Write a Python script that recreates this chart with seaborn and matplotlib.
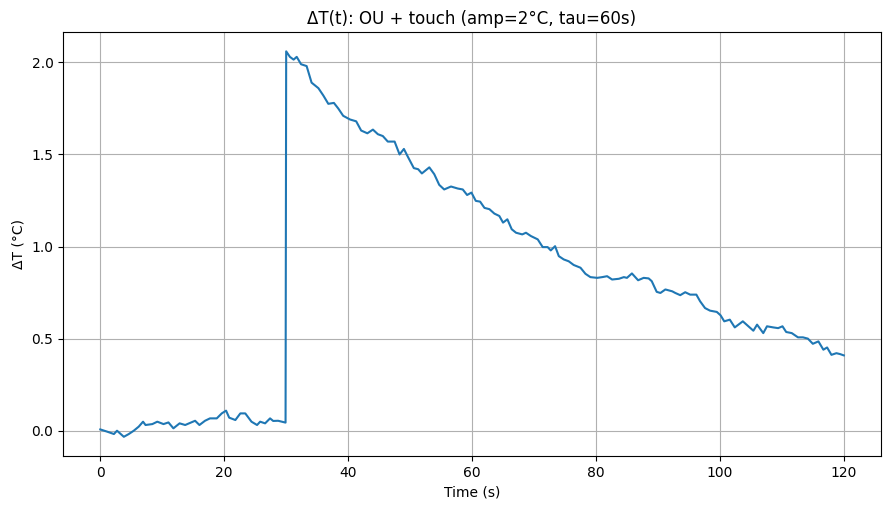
import matplotlib

matplotlib.use("Agg")
import matplotlib.pyplot as plt
import pandas as pd
import seaborn as sns

# values (seconds, degC)
time_before = [0.0, 1.1, 2.2, 2.7, 3.8, 4.6, 5.4, 6.2, 6.9, 7.3, 8.4, 9.2, 10.2,
               11.0, 11.8, 12.8, 13.7, 15.3, 16.0, 16.9, 17.7, 18.8, 19.6, 20.3,
               20.8, 21.8, 22.6, 23.4, 24.4, 25.3, 25.8, 26.6, 27.4, 27.9, 28.7,
               29.9]
dT_before = [0.007, -0.005, -0.018, 0.0, -0.033, -0.018, 0.0, 0.022, 0.049,
             0.031, 0.036, 0.049, 0.036, 0.045, 0.013, 0.040, 0.031, 0.054,
             0.031, 0.054, 0.067, 0.067, 0.094, 0.109, 0.071, 0.058, 0.094,
             0.094, 0.049, 0.031, 0.049, 0.040, 0.067, 0.053, 0.054, 0.044]

time_after = [30.0, 30.6, 31.2, 31.7, 32.4, 33.3, 34.1, 35.2, 36.0, 36.8, 37.7,
              38.4, 39.2, 40.3, 41.3, 42.1, 43.1, 44.0, 44.8, 45.6, 46.4, 47.5,
              48.3, 49.0, 49.6, 50.6, 51.3, 51.9, 53.1, 53.9, 54.7, 55.5, 56.6,
              57.7, 58.5, 59.2, 59.9, 60.6, 61.3, 62.0, 62.8, 63.6, 64.4, 65.0,
              65.7, 66.4, 67.1, 68.1, 68.7, 69.5, 70.6, 71.4, 72.2, 72.7, 73.4,
              74.0, 74.8, 75.6, 76.4, 77.5, 78.3, 79.1, 80.2, 81.0, 81.8, 82.6,
              83.7, 84.5, 85.0, 85.8, 86.8, 87.7, 88.5, 89.0, 89.8, 90.4, 91.2,
              92.3, 92.8, 93.6, 94.4, 95.2, 96.2, 96.8, 97.6, 98.4, 99.5, 100.1,
              100.7, 101.6, 102.4, 103.0, 103.7, 104.6, 105.4, 106.0, 107.0,
              107.6, 108.6, 109.4, 110.1, 110.7, 111.6, 112.6, 113.4, 114.2,
              115.0, 115.9, 116.7, 117.3, 118.0, 118.8, 119.4, 120.0]
dT_after = [2.06, 2.03, 2.015, 2.03, 1.99, 1.98, 1.89, 1.86, 1.82, 1.775, 1.78,
            1.75, 1.71, 1.69, 1.68, 1.63, 1.615, 1.635, 1.61, 1.60, 1.57, 1.57,
            1.50, 1.53, 1.49, 1.426, 1.42, 1.397, 1.43, 1.393, 1.335, 1.31,
            1.326, 1.315, 1.31, 1.28, 1.293, 1.248, 1.244, 1.21, 1.203, 1.179,
            1.166, 1.13, 1.148, 1.094, 1.075, 1.066, 1.075, 1.057, 1.039, 0.997,
            0.997, 0.979, 1.002, 0.948, 0.93, 0.92, 0.90, 0.885, 0.852, 0.834,
            0.830, 0.834, 0.839, 0.821, 0.825, 0.834, 0.830, 0.854, 0.817,
            0.830, 0.827, 0.812, 0.754, 0.748, 0.767, 0.757, 0.748, 0.736,
            0.752, 0.739, 0.739, 0.703, 0.666, 0.652, 0.645, 0.627, 0.594,
            0.603, 0.561, 0.576, 0.594, 0.567, 0.543, 0.576, 0.530, 0.567,
            0.561, 0.557, 0.567, 0.536, 0.530, 0.507, 0.507, 0.500, 0.472,
            0.485, 0.440, 0.452, 0.412, 0.421, 0.416, 0.409]

df = pd.DataFrame(
    {"t": time_before + time_after, "dT": dT_before + dT_after}
)

fig, ax = plt.subplots(figsize=(8.89, 5.09), dpi=100)
fig.subplots_adjust(left=0.071, right=0.991, top=0.937, bottom=0.104)

sns.lineplot(data=df, x="t", y="dT", ax=ax, color="#1f77b4", lw=1.5,
             estimator=None, sort=False)
ax.grid(True)
ax.set_title("ΔT(t): OU + touch (amp=2°C, tau=60s)")
ax.set_xlabel("Time (s)")
ax.set_ylabel("ΔT (°C)")

fig.savefig("out.png", dpi=100)
